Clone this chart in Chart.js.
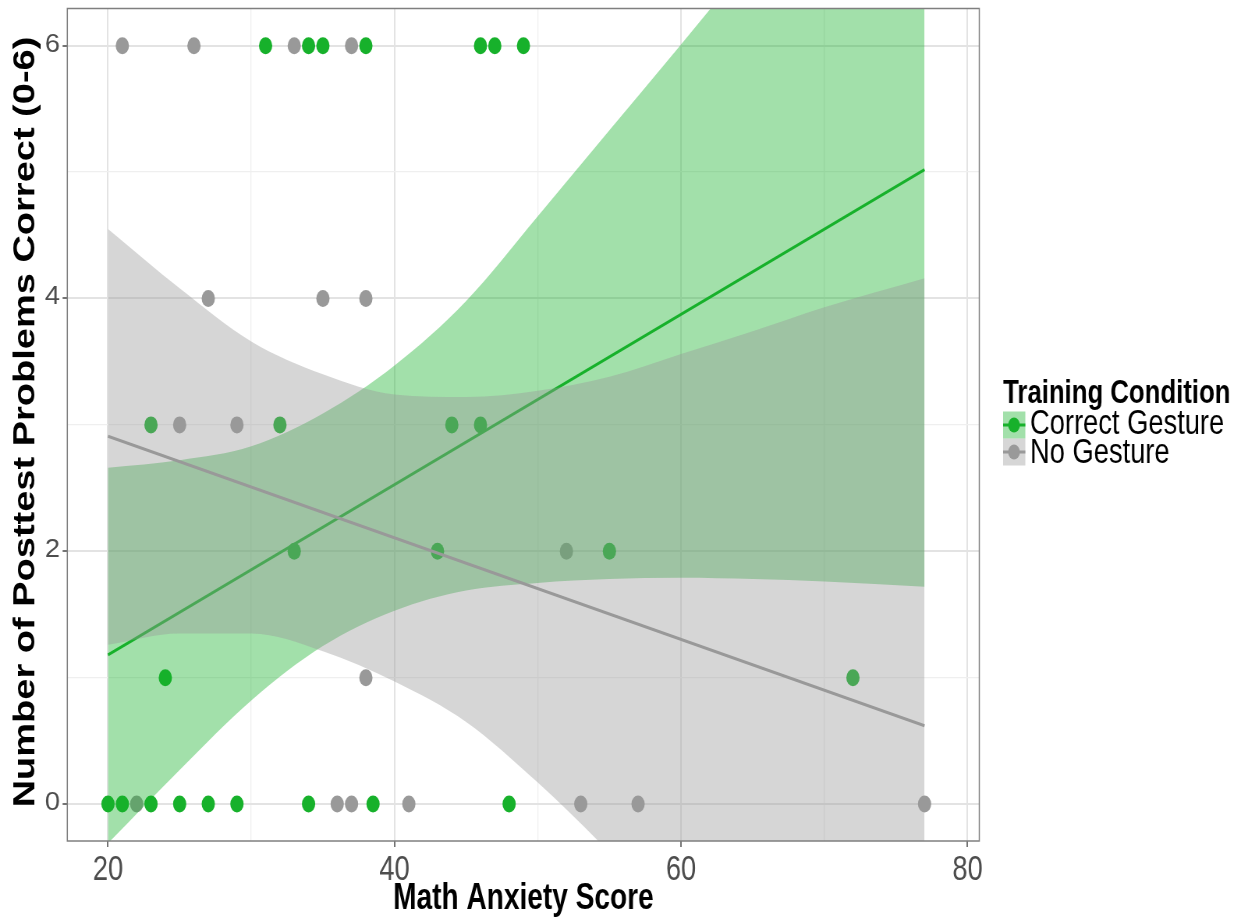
<!DOCTYPE html>
<html>
<head>
<meta charset="utf-8">
<script src="https://cdn.jsdelivr.net/npm/chart.js@4.4.0/dist/chart.umd.min.js"></script>
<style>
  html, body { margin: 0; padding: 0; background: #fff; overflow: hidden; }
  /* the original plot is squashed sideways, so draw wide and scale it down */
  #chart { display: block; transform: scaleX(0.78); transform-origin: 0 0; }
</style>
</head>
<body>
<canvas id="chart" width="1595" height="923"></canvas>
<script>
// Math anxiety score vs posttest problems correct, by training condition

// Correct Gesture points
const gestureX = [31, 34, 35, 38, 46, 47, 49, 23, 32, 44, 46, 33, 43, 55, 24, 72, 20, 21, 23, 25, 27, 29, 34, 38.5, 48];
const gestureY = [6, 6, 6, 6, 6, 6, 6, 3, 3, 3, 3, 2, 2, 2, 1, 1, 0, 0, 0, 0, 0, 0, 0, 0, 0];

// No Gesture points
const noGestureX = [21, 26, 33, 37, 27, 35, 38, 25, 29, 52, 38, 22, 36, 37, 41, 53, 57, 77];
const noGestureY = [6, 6, 6, 6, 4, 4, 4, 3, 3, 2, 1, 0, 0, 0, 0, 0, 0, 0];

// fitted lines (lm) and their confidence bands
const fitX = [20, 77];
const gestureFit = [1.18, 5.02];
const noGestureFit = [2.91, 0.62];

const bandX = [20, 25, 30, 35, 40, 45, 50, 55, 60, 65, 70, 77];
const gestureUpper = [2.66, 2.72, 2.83, 3.09, 3.47, 3.98, 4.65, 5.33, 6.01, 6.70, 7.40, 8.35];
const gestureLower = [-0.31, 0.27, 0.82, 1.25, 1.53, 1.69, 1.75, 1.78, 1.79, 1.78, 1.76, 1.72];
const noGestureUpper = [4.55, 4.08, 3.66, 3.40, 3.24, 3.22, 3.27, 3.38, 3.56, 3.74, 3.93, 4.16];
const noGestureLower = [1.26, 1.35, 1.35, 1.21, 0.97, 0.65, 0.17, -0.38, -0.96, -1.54, -2.14, -2.93];

const xTicks = [20, 30, 40, 50, 60, 70, 80];
const xTickLabels = ['20', '', '40', '', '60', '', '80'];
const yTicks = [0, 1, 2, 3, 4, 5, 6];
const yTickLabels = ['0', '', '2', '', '4', '', '6'];

const legendTitle = 'Training Condition';
const seriesNames = ['Correct Gesture', 'No Gesture'];
const xTitle = 'Math Anxiety Score';
const yTitle = 'Number of Posttest Problems Correct (0-6)';

const GREEN = '#17b12b';
const GRAY = '#999999';
const GREEN_FILL = 'rgba(23,177,43,0.4)';
const GRAY_FILL = 'rgba(153,153,153,0.4)';
const FONT = '"Liberation Sans", Arial, sans-serif';

const zip = (xs, ys) => xs.map((x, i) => ({ x: x, y: ys[i] }));

function band(xs, ys, fill, order, fillTo) {
  return {
    type: 'line',
    data: zip(xs, ys),
    borderWidth: 0,
    borderColor: 'transparent',
    backgroundColor: fill,
    fill: fillTo === undefined ? false : fillTo,
    pointRadius: 0,
    cubicInterpolationMode: 'monotone',
    order: order
  };
}

const frame = {
  id: 'frame',
  afterDraw(chart) {
    const ctx = chart.ctx;
    const a = chart.chartArea;
    ctx.save();
    ctx.strokeStyle = '#7f7f7f';
    ctx.lineWidth = 1.5;
    ctx.strokeRect(a.left, a.top, a.right - a.left, a.bottom - a.top);

    // y tick labels, a bit shorter than the x ones in the original
    const ys = chart.scales.y;
    ctx.fillStyle = '#4d4d4d';
    ctx.font = '35px ' + FONT;
    ctx.textAlign = 'right';
    ctx.textBaseline = 'alphabetic';
    yTicks.forEach((v, i) => {
      if (!yTickLabels[i]) return;
      ctx.save();
      ctx.translate(77, ys.getPixelForValue(v) + 6);
      ctx.scale(1, 0.72);
      ctx.fillText(yTickLabels[i], 0, 0);
      ctx.restore();
    });

    // axis titles
    ctx.fillStyle = '#000';
    ctx.textAlign = 'center';
    ctx.font = 'bold 36px ' + FONT;
    ctx.fillText(xTitle, 671, 909);
    ctx.save();
    ctx.translate(43.5, 422);
    ctx.rotate(-Math.PI / 2);
    ctx.font = 'bold 38px ' + FONT;
    ctx.fillText(yTitle, 0, 0);
    ctx.restore();

    // legend
    ctx.textAlign = 'left';
    ctx.font = 'bold 33px ' + FONT;
    ctx.fillText(legendTitle, 1286, 403);
    const fills = [GREEN_FILL, GRAY_FILL];
    const cols = [GREEN, GRAY];
    const baselines = [434, 463];
    ctx.font = '35px ' + FONT;
    seriesNames.forEach((name, i) => {
      const y0 = 411.5 + i * 27;
      ctx.fillStyle = fills[i];
      ctx.fillRect(1286, y0, 28.5, 27);
      ctx.strokeStyle = cols[i];
      ctx.lineWidth = 3;
      ctx.beginPath();
      ctx.moveTo(1286, y0 + 13.5);
      ctx.lineTo(1314.5, y0 + 13.5);
      ctx.stroke();
      ctx.fillStyle = cols[i];
      ctx.beginPath();
      ctx.arc(1300, y0 + 13.5, 7.5, 0, Math.PI * 2);
      ctx.fill();
      ctx.fillStyle = '#000';
      ctx.fillText(name, 1320.5, baselines[i]);
    });
    ctx.restore();
  }
};

const isMajor = (v) => v % 2 === 0;

new Chart(document.getElementById('chart'), {
  type: 'line',
  data: {
    datasets: [
      { type: 'line', data: zip(fitX, noGestureFit), borderColor: GRAY, borderWidth: 3, pointRadius: 0, fill: false, order: 0 },
      band(bandX, noGestureUpper, GRAY_FILL, 1, 2),
      band(bandX, noGestureLower, GRAY_FILL, 2),
      { type: 'line', data: zip(fitX, gestureFit), borderColor: GREEN, borderWidth: 3, pointRadius: 0, fill: false, order: 3 },
      band(bandX, gestureUpper, GREEN_FILL, 4, 5),
      band(bandX, gestureLower, GREEN_FILL, 5),
      { type: 'scatter', data: zip(noGestureX, noGestureY), backgroundColor: GRAY, pointRadius: 8.5, pointBorderWidth: 0, order: 6 },
      { type: 'scatter', data: zip(gestureX, gestureY), backgroundColor: GREEN, pointRadius: 8.5, pointBorderWidth: 0, order: 7 }
    ]
  },
  options: {
    responsive: false,
    animation: false,
    events: [],
    layout: { padding: { left: 0, top: 6.7, right: 339.5, bottom: 0 } },
    plugins: { legend: { display: false }, tooltip: { enabled: false } },
    scales: {
      x: {
        type: 'linear',
        min: 17.16,
        max: 80.82,
        afterBuildTicks: (s) => { s.ticks = xTicks.map(v => ({ value: v })); },
        afterFit: (s) => { s.height = 82; s.paddingLeft = 0; s.paddingRight = 0; },
        border: { display: false },
        grid: {
          color: (c) => c.tick && c.tick.value % 20 === 0 ? '#e3e3e3' : '#efefef',
          lineWidth: (c) => c.tick && c.tick.value % 20 === 0 ? 2 : 1.3,
          tickColor: (c) => c.tick && c.tick.value % 20 === 0 ? '#444' : 'transparent',
          tickLength: 6,
          tickWidth: 1.5
        },
        ticks: {
          autoSkip: false,
          maxRotation: 0,
          padding: 2,
          color: '#4d4d4d',
          font: { family: FONT, size: 35 },
          callback: (v, i) => xTickLabels[i]
        }
      },
      y: {
        type: 'linear',
        min: -0.292,
        max: 6.294,
        afterBuildTicks: (s) => { s.ticks = yTicks.map(v => ({ value: v })); },
        afterFit: (s) => { s.width = 86.3; s.paddingTop = 0; s.paddingBottom = 0; },
        border: { display: false },
        grid: {
          color: (c) => c.tick && isMajor(c.tick.value) ? '#e3e3e3' : '#efefef',
          lineWidth: (c) => c.tick && isMajor(c.tick.value) ? 2 : 1.3,
          tickColor: (c) => c.tick && isMajor(c.tick.value) ? '#444' : 'transparent',
          tickLength: 6,
          tickWidth: 1.5
        },
        ticks: { display: false }
      }
    }
  },
  plugins: [frame]
});
</script>
</body>
</html>
